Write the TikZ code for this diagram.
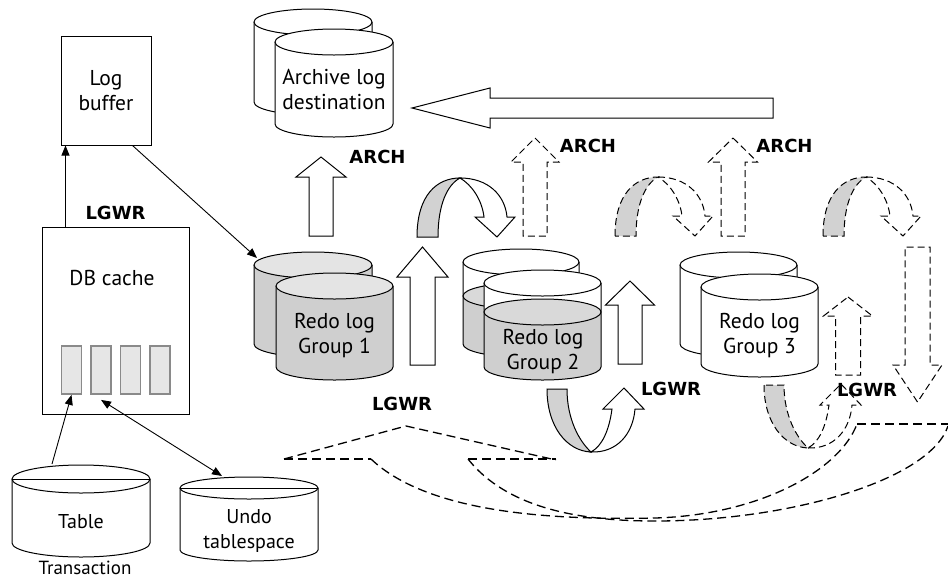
\documentclass[tikz,border=0pt]{standalone}
\usepackage{fontspec}
\setmainfont{PT Sans}
\newfontfamily\tagfont{DejaVu Sans}
\usetikzlibrary{arrows.meta}
\definecolor{bodygray}{HTML}{CFCFCF}
\definecolor{topgray}{HTML}{E4E4E4}
\definecolor{bandgray}{HTML}{D2D2D2}
\definecolor{cellfill}{HTML}{E6E6E6}
\definecolor{cellline}{HTML}{8A8A8A}
\tikzset{
  txt/.style={font=\fontsize{21.5}{25}\selectfont, align=center, inner sep=0pt},
  smalltxt/.style={font=\fontsize{20}{25}\selectfont, align=center, inner sep=0pt},
  tag/.style={font=\tagfont\fontsize{18}{20}\selectfont\bfseries, inner sep=0pt},
  box/.style={draw, line width=1pt},
  cell/.style={draw=cellline, line width=1.8pt, fill=cellfill, minimum width=20pt, minimum height=48pt, inner sep=0pt},
  conn/.style={line width=0.9pt, -{Triangle[length=10pt,width=8pt]}},
  biconn/.style={line width=0.9pt, {Triangle[length=10pt,width=8pt]}-{Triangle[length=10pt,width=8pt]}},
  shortdash/.style={dash pattern=on 7pt off 4pt},
  longdash/.style={line width=1.3pt, dash pattern=on 9pt off 5pt},
  outline/.style={line width=1pt, line join=miter},
  % cylinder: width, height between ellipse centres, ellipse half-height, body fill, top fill
  pics/drum/.style n args={5}{code={
    \pgfmathsetmacro\rw{#1/2}
    \fill[#4] (-\rw,0) -- (-\rw,#2) arc[start angle=180,end angle=0,x radius=\rw,y radius=#3] -- (\rw,0) -- cycle;
    \draw[outline] (-\rw,0) -- (-\rw,#2) arc[start angle=180,end angle=0,x radius=\rw,y radius=#3] -- (\rw,0);
    \draw[outline,fill=#5] (0,0) ellipse[x radius=\rw,y radius=#3];
  }},
  % half-filled cylinder: width, height, ellipse half-height, fill level
  pics/tank/.style n args={4}{code={
    \pgfmathsetmacro\rw{#1/2}
    \fill[white] (-\rw,0) -- (-\rw,#2) arc[start angle=180,end angle=0,x radius=\rw,y radius=#3] -- (\rw,0) -- cycle;
    \fill[bodygray] (-\rw,#4) -- (-\rw,#2) arc[start angle=180,end angle=0,x radius=\rw,y radius=#3] -- (\rw,#4) -- cycle;
    \draw[outline] (-\rw,0) -- (-\rw,#2) arc[start angle=180,end angle=0,x radius=\rw,y radius=#3] -- (\rw,0);
    \draw[outline,fill=white] (0,0) ellipse[x radius=\rw,y radius=#3];
    \draw[outline,fill=bodygray!80!white] (0,#4) ellipse[x radius=\rw,y radius=#3];
  }},
  % disk store with a line across the lid
  pics/store/.style n args={3}{code={
    \pgfmathsetmacro\rw{#1/2}
    \draw[outline] (-\rw,0) -- (-\rw,#2) arc[start angle=180,end angle=0,x radius=\rw,y radius=#3] -- (\rw,0);
    \draw[outline] (0,0) ellipse[x radius=\rw,y radius=#3];
    \draw[outline] (-\rw,0) -- (\rw,0);
  }},
  % block arrow pointing up, origin at the tip: shaft half-width, head half-width, head length, total length
  pics/upblock/.style n args={4}{code={
    \draw[outline,fill=white] (0,0) -- (#2,#3) -- (#1,#3) -- (#1,#4) -- (-#1,#4) -- (-#1,#3) -- (-#2,#3) -- cycle;
  }},
  % ribbon arrow looping over the top, origin at the outer foot of the grey side
  pics/overloop/.style={code={
    \draw[outline,fill=bandgray] (0,0) .. controls (0,-42) and (20,-59) .. (43,-59)
      .. controls (30,-52) and (21,-32) .. (21,0) -- cycle;
    \draw[outline,fill=white] (43,-59) .. controls (71,-59) and (88,-42) .. (90,-20)
      -- (98,-20) -- (80,0) -- (58,-20) -- (67,-20)
      .. controls (65,-37) and (55,-52) .. (43,-59) -- cycle;
  }},
  % ribbon arrow looping underneath, origin at the top of the grey side
  pics/underloop/.style={code={
    \draw[outline,fill=bandgray] (0,0) .. controls (0,38) and (20,62) .. (44,63)
      .. controls (32,52) and (20,30) .. (20,0) -- cycle;
    \draw[outline,fill=white] (44,63) .. controls (70,64) and (86,45) .. (88,20)
      -- (97,20) -- (77,-1) -- (56,20) -- (65,20)
      .. controls (62,42) and (55,57) .. (44,63) -- cycle;
  }}
}
\begin{document}
\begin{tikzpicture}[x=1pt,y=-1pt]
\useasboundingbox (0,0) rectangle (948,579);

% archive log destination
\pic at (313,22) {drum={118}{80}{13}{white}{white}};
\pic at (334,42) {drum={118}{82}{13}{white}{white}};
\node[txt] (archive) at (334,89.5) {Archive log\\destination};

% redo log groups
\pic at (313,265) {drum={118}{79}{13}{bodygray}{topgray}};
\pic at (334.5,286) {drum={117}{81}{13}{bodygray}{topgray}};
\node[txt] (group1) at (334.5,335.5) {Redo log\\Group 1};

\pic at (521,262) {tank={116}{82}{13}{34}};
\pic at (542.5,283) {tank={117}{84}{13}{29}};
\node[txt] (group2) at (543,351.5) {Redo log\\Group 2};

\pic at (738.5,265) {drum={117}{79}{13}{white}{white}};
\pic at (759.5,287) {drum={117}{77}{13}{white}{white}};
\node[txt] (group3) at (759.5,335.5) {Redo log\\Group 3};

% table and undo tablespace
\pic at (81,479) {store={138}{64}{14}};
\node[smalltxt] (table) at (81,522) {Table};
\node[txt, font=\fontsize{19}{25}\selectfont] (trans) at (85,567.5) {Transaction};
\pic at (249,488) {store={138}{62}{11}};
\node[smalltxt] (undo) at (249,530.5) {Undo\\tablespace};

% memory structures
\node[box, txt, minimum width=90pt, minimum height=109pt] (logbuf) at (106,90.5) {Log\\buffer};
\node[box, minimum width=147pt, minimum height=187pt] (dbc) at (115.5,320.5) {};
\node[txt] (dbctxt) at (112,278) {DB cache};
\foreach \i/\cx in {0/71.5,1/101,2/130.5,3/160}
  \node[cell] (cell\i) at (\cx,370) {};

% connectors
\coordinate (up0) at ([xshift=24pt]dbc.north west);
\draw[conn] (up0) -- (up0 |- logbuf.south);
\coordinate (g1in) at (257,258);
\draw[conn] ([xshift=-19pt]logbuf.south east) -- (g1in);
\coordinate (tabtop) at (52,464);
\draw[conn] (tabtop) -- (cell0.south);
\coordinate (undotop) at (222,476);
\coordinate (cellin) at ([yshift=-5pt]cell1.south);
\draw[biconn] (undotop) -- (cellin);

% archiving arrows
\draw[outline,fill=white] (412,108) -- (490,88) -- (490,98) -- (773,98) -- (773,118)
  -- (490,118) -- (490,128) -- cycle;
\pic at (321,157) {upblock={12}{25}{20}{79}};
\pic[shortdash] at (535,138) {upblock={12}{24}{24}{98}};
\pic[shortdash] at (733,138) {upblock={12}{24.5}{24}{98}};

% log writer arrows
\pic at (422.5,247) {upblock={12.5}{25.5}{30}{118}};
\pic at (630,281) {upblock={12}{24.5}{24}{83}};
\pic[shortdash] at (848,297) {upblock={12.5}{24.5}{19}{78}};
\pic[shortdash, rotate=180] at (917.5,402) {upblock={12.5}{24.5}{37}{155}};

% log switch loops
\pic at (417,237) {overloop};
\pic[shortdash] at (615,236) {overloop};
\pic[shortdash] at (823,236) {overloop};
\pic at (547,389) {underloop};
\pic[shortdash] at (764,385) {underloop};

% cycling path of the groups
\coordinate (roofL) at (284,459);
\coordinate (roofP) at (406,426);
\coordinate (roofR) at (556,460);
\coordinate (baseA) at (371,459);
\coordinate (baseB) at (468,459);
\coordinate (baseR) at (556,459);
\coordinate (rightL) at (857,424);
\coordinate (rightR) at (948,424);
\draw[longdash] (roofL) -- (roofP) -- (roofR);
\draw[longdash] (roofL) -- (baseA);
\draw[longdash] (baseB) -- (baseR);
\draw[longdash] (baseA) .. controls (430,515) and (560,520) .. (655,518)
  .. controls (760,515) and (840,470) .. (rightL);
\draw[longdash] (baseB) .. controls (510,512) and (590,521) .. (655,521)
  .. controls (790,521) and (930,480) .. (948,426);
\draw[longdash] (rightL) -- (rightR);

% process labels
\node[tag] (lgwr0) at (115.5,213) {LGWR};
\node[tag] (lgwr1) at (402,404) {LGWR};
\node[tag] (lgwr2) at (671,389) {LGWR};
\node[tag] (lgwr3) at (867,390) {LGWR};
\node[tag] (arch1) at (377.5,157) {ARCH};
\node[tag] (arch2) at (588,146) {ARCH};
\node[tag] (arch3) at (784.5,146) {ARCH};
\end{tikzpicture}
\end{document}
